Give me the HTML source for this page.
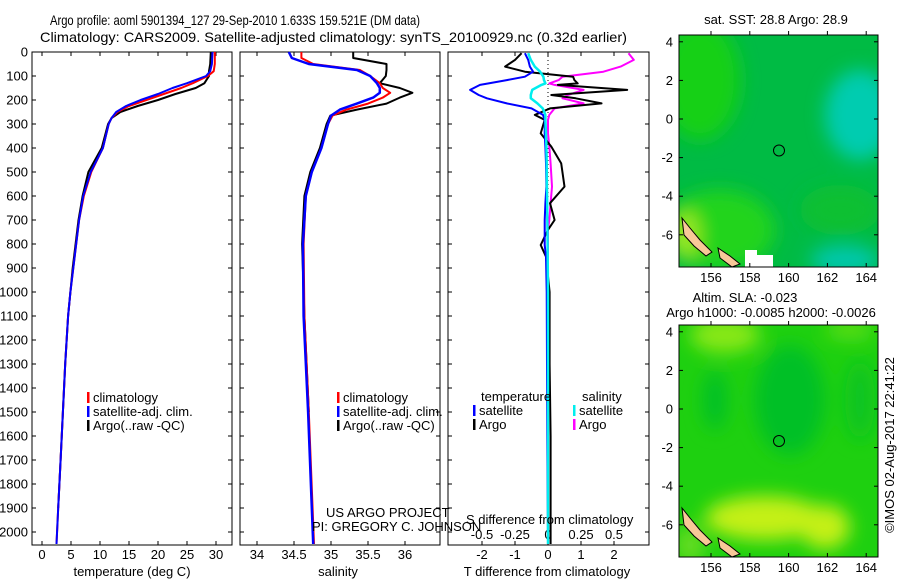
<!DOCTYPE html>
<html><head><meta charset="utf-8"><style>
body{margin:0;background:#fff}
svg{display:block;font-family:"Liberation Sans",sans-serif;font-size:13px}
</style></head><body>
<svg id="c" width="900" height="580" viewBox="0 0 900 580" xmlns="http://www.w3.org/2000/svg">
<defs>
<filter id="bl" x="-50%" y="-50%" width="200%" height="200%"><feGaussianBlur stdDeviation="9"/></filter>
<clipPath id="m1"><rect x="679" y="35" width="199" height="232"/></clipPath>
<clipPath id="m2"><rect x="679" y="325" width="199" height="232"/></clipPath>
</defs>
<text x="50" y="25" style="font-size:14px" textLength="370" lengthAdjust="spacingAndGlyphs">Argo profile: aoml 5901394_127 29-Sep-2010 1.633S 159.521E (DM data)</text>
<text x="40" y="42" style="font-size:14px" textLength="587" lengthAdjust="spacingAndGlyphs">Climatology: CARS2009. Satellite-adjusted climatology: synTS_20100929.nc (0.32d earlier)</text>
<g id="plots"></g>
<g clip-path="url(#m1)">
<rect x="679" y="35" width="199" height="232" fill="#00bb44"/>
<g filter="url(#bl)">
<ellipse cx="700" cy="80" rx="40" ry="60" fill="#18d018"/>
<ellipse cx="720" cy="230" rx="55" ry="40" fill="#22d41a"/>
<ellipse cx="685" cy="235" rx="15" ry="25" fill="#99e820"/>
<ellipse cx="860" cy="115" rx="35" ry="45" fill="#00ccb0"/>
<ellipse cx="845" cy="260" rx="35" ry="14" fill="#00c8b0"/>
<ellipse cx="840" cy="210" rx="40" ry="25" fill="#10c030"/>
</g>
<rect x="745" y="250" width="12" height="17" fill="#fff"/>
<rect x="755" y="255" width="18" height="12" fill="#fff"/>
<polygon points="682,218 690,228 700,240 712,252 706,256 694,246 684,235" fill="#f8c898" stroke="#000" stroke-width="1"/>
<polygon points="718,248 730,256 740,264 732,267 720,258" fill="#f8c898" stroke="#000" stroke-width="1"/>
<circle cx="779" cy="150.5" r="5.5" fill="none" stroke="#000"/>
</g>
<rect x="679" y="35" width="199" height="232" fill="none" stroke="#000"/>
<g clip-path="url(#m2)">
<rect x="679" y="325" width="199" height="232" fill="#1ed010"/>
<g filter="url(#bl)">
<ellipse cx="725" cy="335" rx="35" ry="18" fill="#88e815"/>
<ellipse cx="850" cy="330" rx="25" ry="8" fill="#66e015"/>
<ellipse cx="790" cy="400" rx="35" ry="55" fill="#00c028"/>
<ellipse cx="715" cy="400" rx="12" ry="30" fill="#00c028"/>
<ellipse cx="860" cy="400" rx="15" ry="40" fill="#08c420"/>
<ellipse cx="765" cy="518" rx="60" ry="22" fill="#c4f014"/>
<ellipse cx="825" cy="527" rx="25" ry="22" fill="#c4f014"/>
<ellipse cx="690" cy="545" rx="15" ry="20" fill="#66dd22"/>
</g>
<polygon points="682,508 690,518 700,530 712,542 706,546 694,536 684,525" fill="#f8c898" stroke="#000" stroke-width="1"/>
<polygon points="718,538 730,546 740,554 732,557 720,548" fill="#f8c898" stroke="#000" stroke-width="1"/>
<circle cx="779" cy="441" r="5.5" fill="none" stroke="#000"/>
</g>
<rect x="679" y="325" width="199" height="232" fill="none" stroke="#000"/>
<text x="776" y="24" text-anchor="middle">sat. SST: 28.8 Argo: 28.9</text>
<text x="745" y="302" text-anchor="middle">Altim. SLA: -0.023</text>
<text x="771" y="317" text-anchor="middle">Argo h1000: -0.0085 h2000: -0.0026</text>
<text transform="translate(894,445) rotate(-90)" text-anchor="middle">©IMOS 02-Aug-2017 22:41:22</text>
<g id="maps"></g>
</svg>
<script>
const depthT=[0,50,80,100,130,150,175,200,225,250,275,300,400,500,600,700,800,900,1000,1100,1300,1500,1700,1900,2050];
const tempClim=[29.8,29.8,29.6,28.6,26,24,21,18,15,13,12,11.5,10.5,8.5,7.2,6.4,5.9,5.4,4.9,4.5,4.0,3.6,3.2,2.8,2.5];
const tempSat=[29.4,29.3,29.0,28.3,25,22.5,20,17,14.5,12.8,12,11.5,10.5,8.4,7.1,6.4,5.9,5.4,4.9,4.5,4.0,3.6,3.2,2.8,2.5];
const tempArgo=[29.1,29.0,28.8,28.8,28,26.5,23,20,16.5,13.5,12,11.4,10.3,8.0,7.0,6.3,5.8,5.3,4.9,4.5,4.0,3.6,3.2,2.8];
const depthS=[0,25,50,75,100,130,150,170,190,215,240,265,300,400,500,600,800,1100,1500,2050];
const salClim=[34.6,34.6,34.76,35.39,35.53,35.66,35.7,35.8,35.7,35.5,35.21,35.02,34.96,34.87,34.74,34.66,34.63,34.64,34.7,34.77];
const salSat=[34.43,34.47,34.7,35.35,35.53,35.62,35.66,35.66,35.57,35.35,35.12,35.0,34.96,34.87,34.74,34.66,34.62,34.63,34.69,34.76];
const salArgo=[35.3,35.3,35.75,35.75,35.74,35.66,35.93,36.1,35.93,35.75,35.35,34.99,34.94,34.85,34.72,34.64,34.61,34.64,34.7];
const depthD=[5,33,61,82,103,117,131,137,158,179,193,214,235,262,283,339,394,464,561,630,700,741,804,853,1000,1300,1600,2050];
const dTsat=[-0.7,-0.6,-0.55,-0.45,-0.7,-1.25,-1.8,-2.06,-2.36,-2.1,-1.85,-1.25,-0.5,-0.15,-0.1,-0.1,-0.08,-0.06,-0.05,-0.08,-0.1,-0.1,-0.1,-0.06,-0.04,-0.03,-0.02,0];
const dTargo=[-0.8,-1.0,-1.3,-0.7,0.76,0.8,0.9,0.3,2.4,0.1,0.84,1.62,0.06,-0.4,-0.1,-0.22,0.1,0.4,0.5,0.06,0.2,0,-0.22,-0.06,0.05,0.05,0.08,0.08];
const dSargo=[0.61,0.65,0.55,0.42,0.11,0.08,0.01,0.05,0.27,0.15,0.11,0.27,0.05,0.01,0.0,0.0,0.01,0.02,0.03,0.02,0.01,0.0,0.0,0.0,0.0,0.0,0.0,0.0];
const dSsat=[-0.15,-0.13,-0.1,-0.06,-0.035,-0.03,-0.02,-0.05,-0.12,-0.13,-0.13,-0.08,-0.04,-0.02,-0.02,-0.015,-0.012,-0.01,-0.008,-0.006,-0.005,-0.004,-0.003,-0.002,0,0,0,0];
const depthTicks=[0,100,200,300,400,500,600,700,800,900,1000,1100,1200,1300,1400,1500,1600,1700,1800,1900,2000];
const tTicks=[0,5,10,15,20,25,30];
const sTicks=[34,34.5,35,35.5,36];
const tdTicks=[-2,-1,0,1,2];
const sdTicks=[-0.5,-0.25,0,0.25,0.5];
const sdLabels=['-0.5','-0.25','0','0.25','0.5'];
const latTicks=[4,2,0,-2,-4,-6];
const lonTicks=[156,158,160,162,164];

const NS='http://www.w3.org/2000/svg';
const G=document.getElementById('plots');
function el(tag,at,parent){const e=document.createElementNS(NS,tag);for(const k in at)e.setAttribute(k,at[k]);(parent||G).appendChild(e);return e;}
const yD=d=>52+d*0.24;
const xT=t=>42+t*5.8;
const xS=s=>257+(s-34)*74;
const xTD=v=>548+v*33;
const xSD=v=>548+v*132;
const panels=[[32,232],[240,440],[448,649]];
const BOT=545;
panels.forEach((p,i)=>{
  const r=el('rect',{x:p[0],y:52,width:p[1]-p[0],height:BOT-52,fill:'none',stroke:'#000'});
  
  
  depthTicks.forEach(d=>{
    el('line',{x1:p[0],x2:p[0]+4,y1:yD(d),y2:yD(d),stroke:'#000'});
    el('line',{x1:p[1],x2:p[1]-4,y1:yD(d),y2:yD(d),stroke:'#000'});
  });
});
depthTicks.forEach(d=>{
  const t=el('text',{x:28,y:yD(d)+4.5,'text-anchor':'end'});t.textContent=d;
  
  
});
function xticks(vals,f,labels,ly,top,bottom){
  vals.forEach((v,i)=>{const x=f(v);
    if(bottom) el('line',{x1:x,x2:x,y1:BOT,y2:BOT-4,stroke:'#000'});
    if(top) el('line',{x1:x,x2:x,y1:52,y2:56,stroke:'#000'});
    if(labels){const t=el('text',{x:x,y:ly,'text-anchor':'middle'});t.textContent=labels[i];
      
      }
  });
}
xticks(tTicks,xT,tTicks.map(String),559,true,true);
xticks(sTicks,xS,sTicks.map(String),559,true,true);
xticks(tdTicks,xTD,tdTicks.map(String),559,true,true);
xticks(sdTicks,xSD,sdLabels,539,false,false);
el('line',{x1:548,x2:548,y1:52,y2:200,stroke:'#000','stroke-dasharray':'1,3'});
function line(xs,ds,fx,col,w,name){
  const pts=xs.map((v,i)=>fx(v).toFixed(1)+','+yD(ds[i]).toFixed(1)).join(' ');
  const pl=el('polyline',{points:pts,fill:'none',stroke:col,'stroke-width':w,'stroke-linejoin':'round'});
  
  
  return pl;
}
line(tempArgo,depthT,xT,'#000',2,'temp-argo-line');
line(tempClim,depthT,xT,'#f00',2,'temp-climatology-line');
line(tempSat,depthT,xT,'#00f',2,'temp-satellite-line');
line(salArgo,depthS,xS,'#000',2,'sal-argo-line');
line(salClim,depthS,xS,'#f00',2,'sal-climatology-line');
line(salSat,depthS,xS,'#00f',2.5,'sal-satellite-line');
line(dSargo,depthD,xSD,'#f0f',2,'sdiff-argo-line');
line(dTargo,depthD,xTD,'#000',2,'tdiff-argo-line');
line(dTsat,depthD,xTD,'#00f',2,'tdiff-satellite-line');
line(dSsat,depthD,xSD,'#0ee',2.5,'sdiff-satellite-line');
function txt(x,y,s,name,anchor){const t=el('text',{x:x,y:y,'text-anchor':anchor||'start'});t.textContent=s;
  
  return t;}
function legend(x,y,col,s,name){el('rect',{x:x,y:y-10,width:2.5,height:11,fill:col});txt(x+6,y,s,name);}
legend(87,402,'#f00','climatology','legend-climatology');
legend(87,416,'#00f','satellite-adj. clim.','legend-satellite');
legend(87,430,'#000','Argo(..raw -QC)','legend-argo');
legend(337,402,'#f00','climatology','legend-climatology-2');
legend(337,416,'#00f','satellite-adj. clim.','legend-satellite-2');
legend(337,430,'#000','Argo(..raw -QC)','legend-argo-2');
txt(481,401,'temperature','legend-temperature-header');
txt(582,401,'salinity','legend-salinity-header');
legend(473,415,'#00f','satellite','legend-temp-satellite');
legend(473,429,'#000','Argo','legend-temp-argo');
legend(573,415,'#0ee','satellite','legend-sal-satellite');
legend(573,429,'#f0f','Argo','legend-sal-argo');
txt(326,517,'US ARGO PROJECT','project-label');
txt(312,531,'PI: GREGORY C. JOHNSON','pi-label');
txt(466,524,'S difference from climatology','s-diff-axis-title');
txt(132,576,'temperature (deg C)','temperature-axis-title','middle');
txt(338,576,'salinity','salinity-axis-title','middle');
txt(547,576,'T difference from climatology','t-diff-axis-title','middle');
const M=document.getElementById('maps');
const xLon=l=>711+(l-156)*19.4;
[[119,35,267,287],[409,325,557,577]].forEach(([y0,top,bot,ly])=>{
  latTicks.forEach(l=>{const y=y0-l*19.3;
    el('line',{x1:679,x2:683,y1:y,y2:y,stroke:'#000'},M);
    el('line',{x1:878,x2:874,y1:y,y2:y,stroke:'#000'},M);
    const t=el('text',{x:673,y:y+4.5,'text-anchor':'end'},M);t.textContent=l;
    
    
  });
  lonTicks.forEach(l=>{const x=xLon(l);
    el('line',{x1:x,x2:x,y1:bot,y2:bot-4,stroke:'#000'},M);
    el('line',{x1:x,x2:x,y1:top,y2:top-4,stroke:'#000'},M);
    const t=el('text',{x:x,y:ly-5,'text-anchor':'middle'},M);t.textContent=l;
    
    
  });
});
</script>
</body></html>
